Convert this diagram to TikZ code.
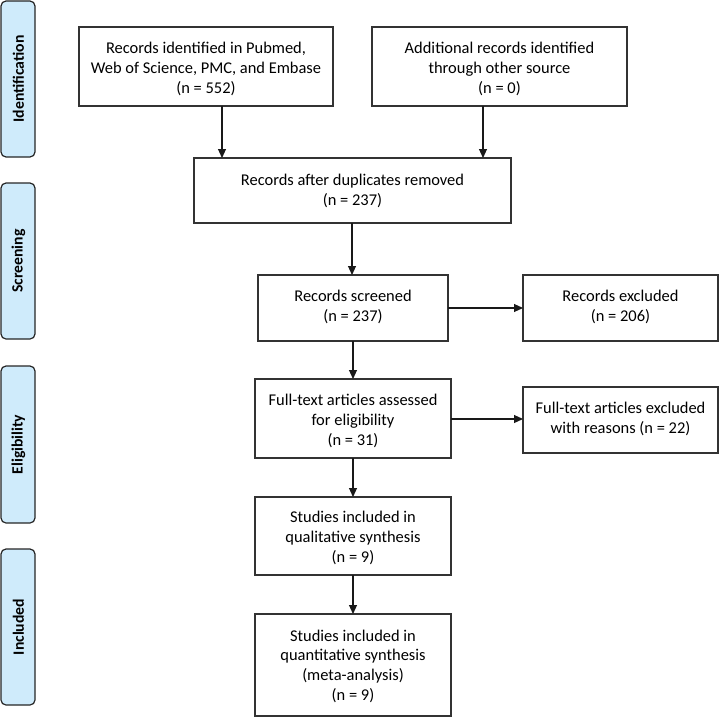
\documentclass[tikz,border=0pt]{standalone}
\usepackage{fontspec}
\setmainfont{Carlito}
\usetikzlibrary{arrows.meta}
\definecolor{sidefill}{HTML}{CFEBFB}
\begin{document}
\begin{tikzpicture}[x=1bp,y=-1bp,
  box/.style={draw=black!80,line width=1.2bp,fill=white},
  sidebox/.style={draw=black!85,line width=1.2bp,fill=sidefill,rounded corners=5bp},
  txt/.style={align=center,font=\fontsize{16.5}{19.7}\selectfont,inner sep=0pt},
  sidetxt/.style={rotate=90,font=\fontsize{15.8}{18}\selectfont\bfseries,inner sep=0pt},
  arr/.style={-{Triangle[length=9bp,width=8bp]},line width=1.1bp,draw=black!90}]
\useasboundingbox (0,0) rectangle (720,718);
% side boxes
\draw[sidebox] (1,1) rectangle (35,157) coordinate (s1);
\node[sidetxt] (t1) at (18.5,79) {Identification};
\draw[sidebox] (1,183) rectangle (35,339);
\node[sidetxt] (t2) at (18.5,261) {Screening};
\draw[sidebox] (1,366) rectangle (35,523);
\node[sidetxt] (t3) at (18.5,444.5) {Eligibility};
\draw[sidebox] (1,549) rectangle (35,705);
\node[sidetxt] (t4) at (18.5,627) {Included};
% main boxes
\draw[box] (79,27) rectangle (333,106);
\node[txt] (b1) at (206,69) {Records identified in Pubmed,\\Web of Science, PMC, and Embase\\(n = 552)};
\coordinate (b1s) at (222,106);
\draw[box] (372,27) rectangle (627,106);
\node[txt] (b2) at (499.5,69) {Additional records identified\\through other source\\(n = 0)};
\coordinate (b2s) at (483,106);
\draw[box] (194,158) rectangle (511,223);
\node[txt] (b3) at (352.5,191) {Records after duplicates removed\\(n = 237)};
\coordinate (b3a) at (222,158);
\coordinate (b3b) at (483,158);
\coordinate (b3s) at (352,223);
\draw[box] (258,275) rectangle (448,341);
\node[txt] (b4) at (353,307) {Records screened\\(n = 237)};
\coordinate (b4t) at (352,275);
\coordinate (b4r) at (448,308);
\coordinate (b4s) at (353,341);
\draw[box] (523,275) rectangle (718,341);
\node[txt] (b5) at (620.5,307) {Records excluded\\(n = 206)};
\coordinate (b5l) at (523,308);
\draw[box] (255,379) rectangle (451,458);
\node[txt] (b6) at (353,421) {Full-text articles assessed\\for eligibility\\(n = 31)};
\coordinate (b6t) at (353,379);
\coordinate (b6r) at (451,419);
\coordinate (b6s) at (353,458);
\draw[box] (523,387) rectangle (718,453);
\node[txt] (b7) at (620.5,419) {Full-text articles excluded\\with reasons (n = 22)};
\coordinate (b7l) at (523,419);
\draw[box] (255,497) rectangle (451,575);
\node[txt] (b8) at (353,538) {Studies included in\\qualitative synthesis\\(n = 9)};
\coordinate (b8t) at (353,497);
\coordinate (b8s) at (353,575);
\draw[box] (255,614) rectangle (451,716);
\node[txt] (b9) at (353,666) {Studies included in\\quantitative synthesis\\(meta-analysis)\\(n = 9)};
\coordinate (b9t) at (353,614);
% arrows
\draw[arr] (b1s) -- (b3a);
\draw[arr] (b2s) -- (b3b);
\draw[arr] (b3s) -- (b4t);
\draw[arr] (b4r) -- (b5l);
\draw[arr] (b4s) -- (b6t);
\draw[arr] (b6r) -- (b7l);
\draw[arr] (b6s) -- (b8t);
\draw[arr] (b8s) -- (b9t);
\end{tikzpicture}
\end{document}
